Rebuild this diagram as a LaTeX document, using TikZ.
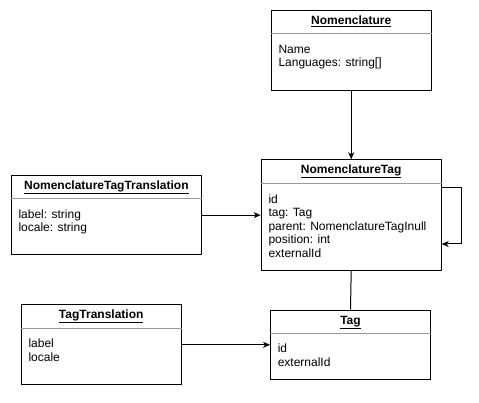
\documentclass[tikz,border=0pt]{standalone}
\usepackage{fontspec}
\setmainfont{Liberation Sans}
\usetikzlibrary{arrows.meta}
\tikzset{
  box/.style={draw=black, line width=1pt, fill=white, inner sep=0pt, anchor=north west},
  sepline/.style={draw=black!40, line width=1pt},
  titletext/.style={font=\fontsize{12}{13.5}\selectfont\bfseries, anchor=base, inner sep=0pt},
  attrtext/.style={font=\fontsize{12}{13.5}\selectfont, anchor=base west, inner sep=0pt},
  conn/.style={draw=black, line width=1pt},
  arr/.style={conn, -{Stealth[length=7pt,width=6pt,inset=2pt]}}
}
\newcommand{\umlbox}[8]{%
  % #1 name, #2 x, #3 y, #4 width, #5 height, #6 title, #7 attrs
  \node[box, minimum width=#4pt, minimum height=#5pt] (#1) at (#2,#3) {};
  \draw[sepline] ([yshift=-24pt]#1.north west) -- ([yshift=-24pt]#1.north east);
  \node[titletext] (#1T) at ([yshift=-14.3pt]#1.north) {\underline{#6}};
  \node[attrtext] (#1A) at ([xshift=7.6pt,yshift=-#8pt]#1.north west) {\begin{tabular}[t]{@{}l@{}}#7\end{tabular}};
}
\begin{document}
\begin{tikzpicture}[x=1pt,y=-1pt]
  \fill[white] (0,0) rectangle (479,403);
  \useasboundingbox (0,0) rectangle (479,403);
  \umlbox{nom}{270.7}{10}{160}{80}{Nomenclature}{Name\\Languages: string[]}{43.5}
  \umlbox{ntag}{260.7}{159.3}{180}{110.7}{NomenclatureTag}{id\\tag: Tag\\parent: NomenclatureTagInull\\position: int\\externalId}{43.8}
  \umlbox{ntt}{10.7}{175}{190.3}{79.3}{NomenclatureTagTranslation}{label: string\\locale: string}{43.5}
  \umlbox{tt}{20.7}{304.3}{160}{80}{TagTranslation}{label\\locale}{43.2}
  \umlbox{tag}{270}{309.7}{160}{69.3}{Tag}{id\\externalId}{43.2}
  \draw[arr] (nom.south) -- (ntag.north);
  \draw[arr] (ntt.east) -- (ntt.east -| ntag.west);
  \draw[arr] (tt.east) -- (tt.east -| tag.west);
  \draw[conn] (ntag.south) -- (tag.north);
  \coordinate (loopA) at ([yshift=-28.4pt]ntag.north east);
  \coordinate (loopB) at ([yshift=27pt]ntag.south east);
  \draw[arr] (loopA) -- ([xshift=20pt]loopA) |- (loopB);
\end{tikzpicture}
\end{document}
